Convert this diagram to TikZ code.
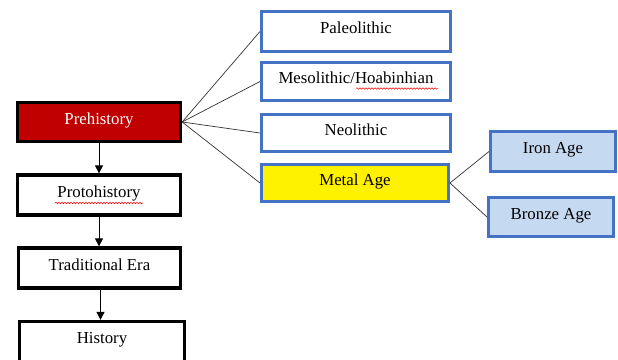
\documentclass[tikz,border=0pt]{standalone}
\usepackage{fontspec}
\setmainfont{Liberation Serif}
\usetikzlibrary{arrows.meta,decorations.pathmorphing,calc}
\definecolor{boxblue}{HTML}{4472C4}
\definecolor{lightblue}{HTML}{C5D9F1}
\definecolor{darkred}{HTML}{C00000}
\begin{document}
\begin{tikzpicture}[x=1pt,y=-1pt,
  base/.style={rectangle,inner sep=0pt,font=\fontsize{16.8}{20}\selectfont,text height=11.5pt,text depth=7pt,anchor=center},
  blackbox/.style={base,draw=black,line width=3.3pt,fill=white},
  bluebox/.style={base,draw=boxblue,line width=3pt,fill=white},
  conn/.style={draw=black!80,line width=0.7pt},
  arr/.style={draw=black,line width=1pt,-{Triangle[length=8pt,width=8pt]}},
  spell/.style={draw=red,line width=0.5pt,decorate,decoration={snake,amplitude=0.8pt,segment length=3pt}}]
\useasboundingbox (0,0) rectangle (618,359);
\clip (0,0) rectangle (618,359);
% left column
\node[blackbox,fill=darkred,text=white,minimum width=163pt,minimum height=39pt] (pre) at (99,122) {Prehistory};
\node[blackbox,minimum width=163pt,minimum height=40pt] (proto) at (99,195) {Protohistory};
\node[blackbox,minimum width=162pt,minimum height=40pt] (trad) at (99.5,268) {Traditional Era};
\node[blackbox,minimum width=165pt,minimum height=40pt] (hist) at (102,341.5) {History};
% middle column
\node[bluebox,minimum width=189pt,minimum height=40pt] (paleo) at (356,31.5) {Paleolithic};
\node[bluebox,minimum width=189pt,minimum height=38pt] (meso) at (356,81.5) {Mesolithic/Hoabinhian};
\node[bluebox,minimum width=189pt,minimum height=37pt] (neo) at (356,133) {Neolithic};
\node[bluebox,fill=yellow,minimum width=187pt,minimum height=37pt] (metal) at (355,183) {Metal Age};
% right column
\node[bluebox,fill=lightblue,minimum width=125pt,minimum height=40pt] (iron) at (553,151.5) {Iron Age};
\node[bluebox,fill=lightblue,minimum width=125pt,minimum height=39pt] (bronze) at (551,217) {Bronze Age};
% connectors
\draw[arr] (pre.south) -- (proto.north);
\draw[arr] (proto.south) -- (proto.south |- trad.north);
\draw[arr] ([xshift=1pt]trad.south) -- ([xshift=1pt]trad.south |- hist.north);
\foreach \t in {paleo,meso,neo,metal} \draw[conn] (pre.east) -- (\t.west);
\draw[conn] (metal.east) -- (iron.west);
\draw[conn] (metal.east) -- (bronze.west);
% spell-check underlines
\draw[spell] ($(proto.center)+(-44,8)$) -- ($(proto.center)+(44,8)$);
\draw[spell] ($(meso.center)+(0,7)$) -- ($(meso.center)+(82,7)$);
\end{tikzpicture}
\end{document}
